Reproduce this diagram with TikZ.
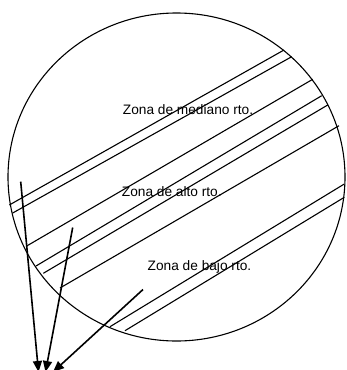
\documentclass[tikz,border=0pt]{standalone}
\usepackage{fontspec}
\setmainfont{Liberation Sans}
\usetikzlibrary{arrows.meta}
\begin{document}
\begin{tikzpicture}[x=1pt,y=-1pt,
  band/.style={line width=1.1pt},
  outline/.style={line width=1.1pt},
  pointer/.style={line width=1.6pt,-{Triangle[length=11pt,width=9pt]}},
  zone/.style={anchor=base west,inner sep=0pt,font=\fontsize{13.7}{16}\selectfont}]
\useasboundingbox (0,0) rectangle (346,370);
\fill[white] (0,0) rectangle (346,370);
% outer circle
\draw[outline] (176.5,177) ellipse [x radius=168.5, y radius=164];
% band lines
\draw[band] (9.3,205) -- (284,50);
\draw[band] (12.7,213) -- (291.7,56.7);
\draw[band] (26.7,246) -- (312.7,79.3);
\draw[band] (36,266) -- (321.7,95.7);
\draw[band] (43.3,273.3) -- (327.7,105);
\draw[band] (60,288) -- (339,125.7);
\draw[band] (110,326.7) -- (344.3,184);
\draw[band] (125,330.7) -- (344.3,197.3);
% labels
\node[zone] (med) at (122.7,114) {Zona de mediano rto.};
\node[zone] (alto) at (121.7,196.7) {Zona de alto rto.};
\node[zone] (bajo) at (147.5,270.7) {Zona de bajo rto.};
% arrows
\coordinate (s1) at (20.7,181.7);
\coordinate (s2) at (72.7,227.5);
\coordinate (s3) at (143,289.5);
\coordinate (t1) at (38.5,372);
\coordinate (t2) at (45.5,372);
\coordinate (t3) at (53,372);
\draw[pointer] (s1) -- (t1);
\draw[pointer] (s2) -- (t2);
\draw[pointer] (s3) -- (t3);
\end{tikzpicture}
\end{document}
